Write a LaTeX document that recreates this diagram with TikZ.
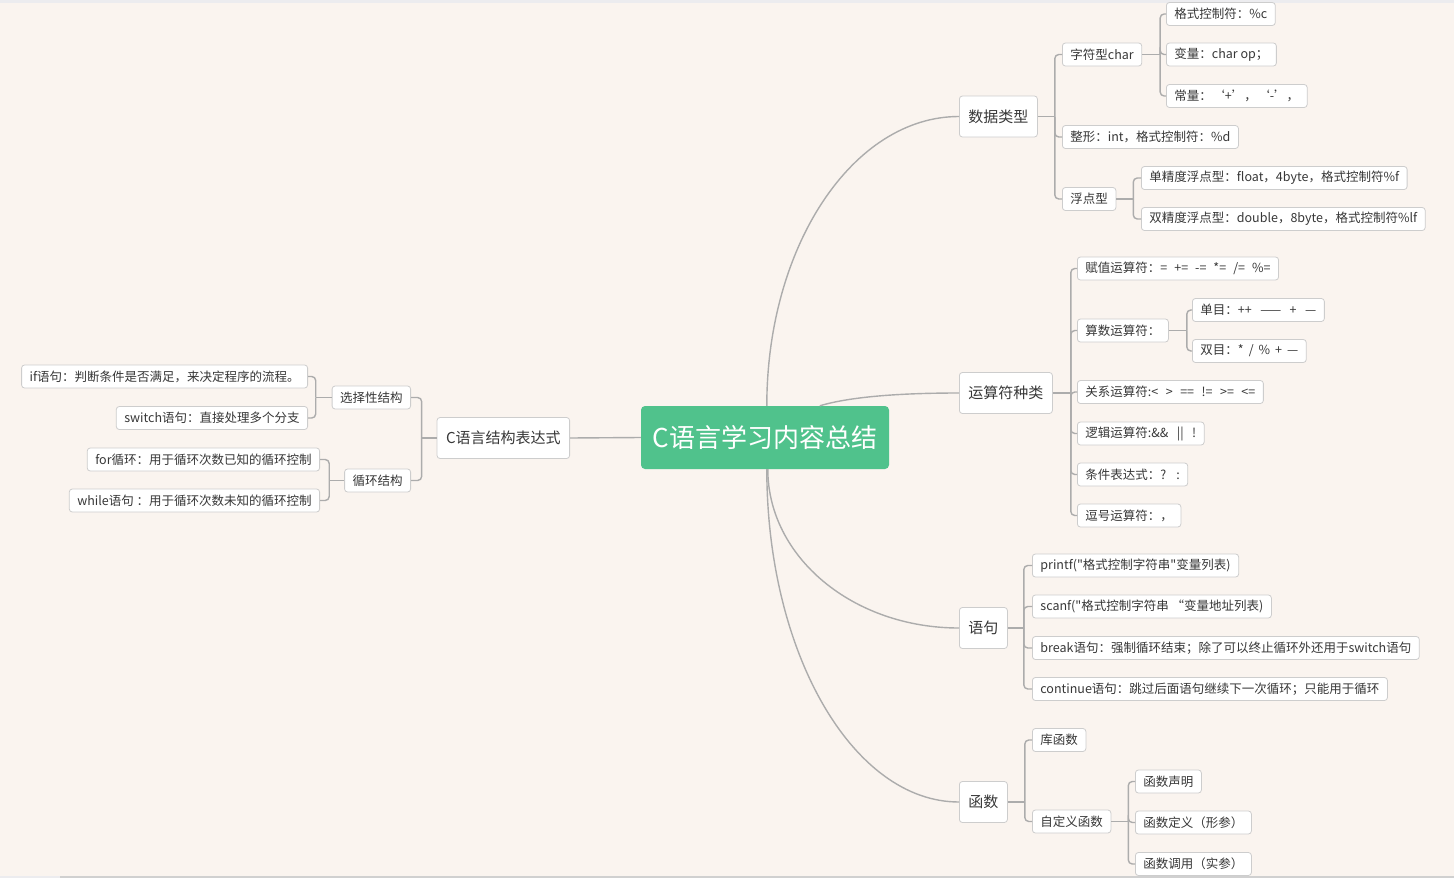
\documentclass[tikz,border=0pt]{standalone}
\usepackage{fontspec}
\setmainfont{Noto Sans CJK SC}[Ligatures=TeXOff]
\usetikzlibrary{calc}
\definecolor{bgc}{RGB}{250,244,239}
\definecolor{topc}{RGB}{236,236,239}
\definecolor{botc}{RGB}{208,208,208}
\definecolor{lnc}{RGB}{172,172,172}
\definecolor{bxc}{RGB}{205,205,205}
\definecolor{txc}{RGB}{55,55,55}
\definecolor{grn}{RGB}{80,194,140}
\tikzset{
  box/.style={draw=bxc, fill=white, rounded corners=3pt, text=txc, line width=0.8pt,
    font=\fontsize{12.5}{14}\selectfont, minimum height=23pt, inner xsep=8pt, inner ysep=0pt},
  lone/.style={box, font=\fontsize{15}{17}\selectfont, minimum height=41pt, inner xsep=9pt},
  rootbox/.style={fill=grn, rounded corners=4pt, text=white, font=\fontsize{26}{30}\selectfont,
    minimum width=248pt, minimum height=63pt, inner sep=0pt},
  conn/.style={draw=lnc, line width=1.4pt},
  br/.style={conn, rounded corners=4pt},
  wsp/.style={execute at begin node={\spaceskip=#1\relax}},
}
\begin{document}
\begin{tikzpicture}[x=1pt,y=-1pt]
\useasboundingbox (0,0) rectangle (1454,878);
\fill[bgc] (0,0) rectangle (1454,878);
\fill[topc] (0,0) rectangle (1454,3);
\fill[botc] (60,876) rectangle (1454,878);
\fill[topc] (0,876) rectangle (60,878);

% root
\node[rootbox] (root) at (765,437.5) {C语言学习内容总结};

% level 1 right
\node[lone,anchor=west] (dt) at (959,116.5) {数据类型};
\node[lone,anchor=west] (ops) at (959,393) {运算符种类};
\node[lone,anchor=west] (stm) at (959,628) {语句};
\node[lone,anchor=west] (fn) at (959,802) {函数};
% level 1 left
\node[lone,anchor=east] (cs) at (570,438) {C语言结构表达式};

% data types
\node[box,anchor=west] (chr) at (1062,54.5) {字符型char};
\node[box,anchor=west] (chra) at (1166,14) {格式控制符：\%c};
\node[box,anchor=west] (chrb) at (1166,54.5) {变量：char op；};
\node[box,anchor=west,wsp=0.5pt] (chrc) at (1166,96) {常量： ‘+’， ‘-’，};
\node[box,anchor=west] (int) at (1062,137) {整形：int，格式控制符：\%d};
\node[box,anchor=west] (flt) at (1062,199) {浮点型};
\node[box,anchor=west] (flta) at (1141,178) {单精度浮点型：float，4byte，格式控制符\%f};
\node[box,anchor=west] (fltb) at (1141,219) {双精度浮点型：double，8byte，格式控制符\%lf};

% operators
\node[box,anchor=west,wsp=7pt] (opa) at (1077,268.5) {赋值运算符：= += -= *= /= \%=};
\node[box,anchor=west] (opb) at (1077,330.5) {算数运算符：};
\node[box,anchor=west,wsp=8.5pt] (opba) at (1192,310) {单目：++ —— + —};
\node[box,anchor=west,wsp=5pt] (opbb) at (1192,351) {双目：* / \% + —};
\node[box,anchor=west,wsp=7.5pt] (opc) at (1077,392) {关系运算符:< > == != >= <=};
\node[box,anchor=west,wsp=8.5pt] (opd) at (1077,433.5) {逻辑运算符:\&\& || !};
\node[box,anchor=west,wsp=9pt] (ope) at (1077,474.5) {条件表达式：? :};
\node[box,anchor=west] (opf) at (1077,515.5) {逗号运算符：，};

% statements
\node[box,anchor=west] (sa) at (1032,565.5) {printf("格式控制字符串"变量列表)};
\node[box,anchor=west] (sb) at (1032,606.5) {scanf("格式控制字符串\ “变量地址列表)};
\node[box,anchor=west] (sc) at (1032,648) {break语句：强制循环结束；除了可以终止循环外还用于switch语句};
\node[box,anchor=west] (sd) at (1032,689) {continue语句：跳过后面语句继续下一次循环；只能用于循环};

% functions
\node[box,anchor=west] (fa) at (1032,740) {库函数};
\node[box,anchor=west] (fb) at (1032,821.5) {自定义函数};
\node[box,anchor=west] (fba) at (1135,781.5) {函数声明};
\node[box,anchor=west] (fbb) at (1135,822.5) {函数定义（形参）};
\node[box,anchor=west] (fbc) at (1135,864) {函数调用（实参）};

% left side
\node[box,anchor=east] (sel) at (411,397.5) {选择性结构};
\node[box,anchor=east] (lp) at (411,480.5) {循环结构};
\node[box,anchor=east] (sela) at (308,376.5) {if语句：判断条件是否满足，来决定程序的流程。};
\node[box,anchor=east] (selb) at (308,418) {switch语句：直接处理多个分支};
\node[box,anchor=east] (lpa) at (320,459.5) {for循环：用于循环次数已知的循环控制};
\node[box,anchor=east] (lpb) at (320,500.5) {while语句\ ：用于循环次数未知的循环控制};

% root connectors
\coordinate (r1) at ($(root.north west)+(126,0)$);
\coordinate (r2) at ($(root.north west)+(179,0)$);
\coordinate (r3) at ($(root.south west)+(127,0)$);
\coordinate (r4) at ($(root.south west)+(126,0)$);
\draw[conn] (r1) .. controls ($(r1)+(0,-160)$) and ($(dt.west)+(-106,0)$) .. (dt.west);
\draw[conn] (r2) .. controls ($(r2)+(30,-9)$) and ($(ops.west)+(-60,0)$) .. (ops.west);
\draw[conn] (r3) .. controls ($(r3)+(0,88)$) and ($(stm.west)+(-106,0)$) .. (stm.west);
\draw[conn] (r4) .. controls ($(r4)+(0,184)$) and ($(fn.west)+(-106,0)$) .. (fn.west);
\draw[conn] (root.west) -- (cs.east);

% trunks
\coordinate (tdt) at ($(dt.east)+(17,0)$);
\draw[conn] (dt.east) -- (tdt);
\foreach \c in {chr,int,flt} \draw[br] (tdt) |- (\c.west);
\coordinate (tchr) at ($(chr.east)+(18,0)$);
\draw[conn] (chr.east) -- (tchr);
\foreach \c in {chra,chrb,chrc} \draw[br] (tchr) |- (\c.west);
\coordinate (tflt) at ($(flt.east)+(17,0)$);
\draw[conn] (flt.east) -- (tflt);
\foreach \c in {flta,fltb} \draw[br] (tflt) |- (\c.west);

\coordinate (tops) at ($(ops.east)+(18,0)$);
\draw[conn] (ops.east) -- (tops);
\foreach \c in {opa,opb,opc,opd,ope,opf} \draw[br] (tops) |- (\c.west);
\coordinate (topb) at ($(opb.east)+(18,0)$);
\draw[conn] (opb.east) -- (topb);
\foreach \c in {opba,opbb} \draw[br] (topb) |- (\c.west);

\coordinate (tstm) at ($(stm.east)+(16,0)$);
\draw[conn] (stm.east) -- (tstm);
\foreach \c in {sa,sb,sc,sd} \draw[br] (tstm) |- (\c.west);

\coordinate (tfn) at ($(fn.east)+(17,0)$);
\draw[conn] (fn.east) -- (tfn);
\foreach \c in {fa,fb} \draw[br] (tfn) |- (\c.west);
\coordinate (tfb) at ($(fb.east)+(17,0)$);
\draw[conn] (fb.east) -- (tfb);
\foreach \c in {fba,fbb,fbc} \draw[br] (tfb) |- (\c.west);

\coordinate (tcs) at ($(cs.west)+(-15,0)$);
\draw[conn] (cs.west) -- (tcs);
\foreach \c in {sel,lp} \draw[br] (tcs) |- (\c.east);
\coordinate (tsel) at ($(sel.west)+(-16,0)$);
\draw[conn] (sel.west) -- (tsel);
\foreach \c in {sela,selb} \draw[br] (tsel) |- (\c.east);
\coordinate (tlp) at ($(lp.west)+(-15,0)$);
\draw[conn] (lp.west) -- (tlp);
\foreach \c in {lpa,lpb} \draw[br] (tlp) |- (\c.east);
\end{tikzpicture}
\end{document}
